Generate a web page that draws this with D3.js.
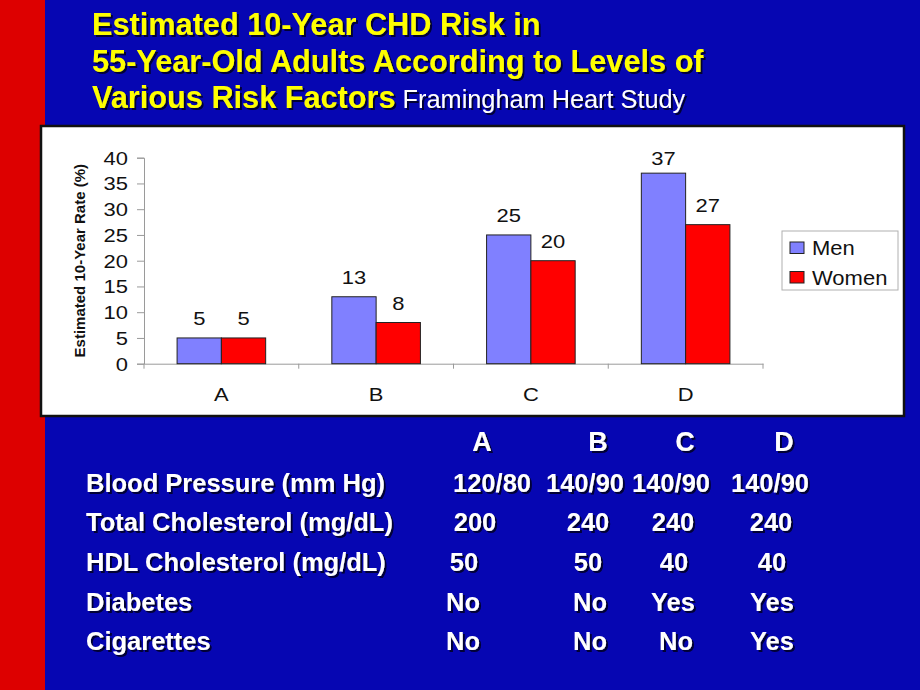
<!DOCTYPE html>
<html><head><meta charset="utf-8">
<script src="https://cdn.jsdelivr.net/npm/d3@7"></script>
<style>
html,body{margin:0;padding:0;background:#0808b0;}
svg{display:block;}
text{font-family:"Liberation Sans",Arial,Helvetica,sans-serif;}
</style></head>
<body>
<svg id="c" width="920" height="690"></svg>
<script>
// ---------- DATA ----------
const titleLines = ["Estimated 10-Year CHD Risk in", "55-Year-Old Adults According to Levels of", "Various Risk Factors"];
const subtitle = "Framingham Heart Study";
const categories = ["A", "B", "C", "D"];
const seriesNames = ["Men", "Women"];
const menValues = [5, 13, 25, 37];
const womenValues = [5, 8, 20, 27];
const yTicks = [0, 5, 10, 15, 20, 25, 30, 35, 40];
const yAxisTitle = "Estimated 10-Year Rate (%)";
const rowLabels = ["Blood Pressure (mm Hg)", "Total Cholesterol (mg/dL)", "HDL Cholesterol (mg/dL)", "Diabetes", "Cigarettes"];
const bloodPressure = ["120/80", "140/90", "140/90", "140/90"];
const totalCholesterol = ["200", "240", "240", "240"];
const hdlCholesterol = ["50", "50", "40", "40"];
const diabetes = ["No", "No", "Yes", "Yes"];
const cigarettes = ["No", "No", "No", "Yes"];

// ---------- DRAW ----------
const svg = d3.select("#c");
const defs = svg.append("defs");
const f = defs.append("filter").attr("id","sh").attr("x","-5%").attr("y","-20%").attr("width","110%").attr("height","150%");
f.append("feDropShadow").attr("dx",2).attr("dy",2).attr("stdDeviation",0.6).attr("flood-color","#000020").attr("flood-opacity",0.85);

svg.append("rect").attr("x",0).attr("y",0).attr("width",920).attr("height",690).attr("fill","#0606b2");
svg.append("rect").attr("x",0).attr("y",0).attr("width",45).attr("height",690).attr("fill","#dd0000");

// title
const tg = svg.append("g").attr("filter","url(#sh)");
const baselines = [35, 72, 108];
titleLines.forEach((t,i)=>{
  const tx = tg.append("text").attr("x",92).attr("y",baselines[i])
    .attr("fill","#ffff00").attr("font-size",30.7).attr("font-weight","bold").text(t);
  if(i===2){
    tx.append("tspan").attr("fill","#ffffff").attr("font-weight","normal").attr("font-size",25.3).text(" " + subtitle);
  }
});

// chart panel
svg.append("rect").attr("x",41).attr("y",126).attr("width",863).attr("height",290)
  .attr("fill","#ffffff").attr("stroke","#111").attr("stroke-width",2.5);

const plotL = 144, plotR = 763, plotT = 157.7, plotB = 363.7;
const x = d3.scaleBand().domain(categories).range([plotL, plotR]).padding(0);
const xi = d3.scaleBand().domain(seriesNames).range([0, x.bandwidth()]).paddingInner(0).paddingOuter(0.747);
const y = d3.scaleLinear().domain([0, 40]).range([plotB, plotT]);
const color = d3.scaleOrdinal().domain(seriesNames).range(["#8080ff", "#ff0000"]);
const sx = 1.22; // horizontal stretch of the embedded chart text

const chart = svg.append("g");
// y axis
const yAxis = chart.append("g").attr("transform",`translate(${plotL},0)`)
  .call(d3.axisLeft(y).tickValues(yTicks).tickSize(7).tickPadding(0).tickFormat(d3.format("d")));
yAxis.select(".domain").attr("stroke","#9a9a9a");
yAxis.selectAll(".tick line").attr("stroke","#9a9a9a");
yAxis.selectAll(".tick text").attr("font-size",18).attr("fill","#111")
  .attr("font-family","Liberation Sans, Arial, sans-serif")
  .attr("x",null).attr("dy",null).attr("text-anchor","end")
  .attr("transform",`translate(-16,6.5) scale(${sx},1)`);

// x axis
const xAxis = chart.append("g").attr("transform",`translate(0,${plotB})`)
  .call(d3.axisBottom(x).tickSize(0).tickPadding(0));
xAxis.select(".domain").attr("stroke","#9a9a9a");
xAxis.selectAll(".tick text").attr("font-size",18).attr("fill","#111")
  .attr("font-family","Liberation Sans, Arial, sans-serif")
  .attr("y",null).attr("dy",null)
  .attr("transform",`translate(0,37) scale(${sx},1)`);
// category boundary ticks
const bounds = categories.map(c=>x(c)).concat([x(categories[categories.length-1]) + x.bandwidth()]);
chart.append("g").selectAll("line").data(bounds).join("line")
  .attr("x1",d=>d).attr("x2",d=>d).attr("y1",plotB).attr("y2",plotB+5)
  .attr("stroke","#9a9a9a");

// bars
const rows = categories.map((c,i)=>({cat:c, vals:[{s:"Men",v:menValues[i]},{s:"Women",v:womenValues[i]}]}));
const groups = chart.append("g").selectAll("g").data(rows).join("g")
  .attr("transform",d=>`translate(${x(d.cat)},0)`);
groups.selectAll("rect").data(d=>d.vals).join("rect")
  .attr("x",d=>xi(d.s)).attr("width",xi.bandwidth())
  .attr("y",d=>y(d.v)).attr("height",d=>plotB - y(d.v))
  .attr("fill",d=>color(d.s)).attr("stroke","#222").attr("stroke-width",1);
groups.selectAll("text").data(d=>d.vals).join("text")
  .attr("text-anchor","middle").attr("font-size",18).attr("fill","#111")
  .attr("transform",d=>`translate(${xi(d.s)+xi.bandwidth()/2},${Math.max(y(d.v)-12.5, 165)}) scale(${sx},1)`)
  .text(d=>d.v);

// y axis title
chart.append("text").attr("transform",`translate(85,${(plotT+plotB)/2}) rotate(-90)`)
  .attr("text-anchor","middle").attr("font-size",15).attr("font-weight","bold").attr("fill","#111")
  .text(yAxisTitle);

// legend
const lg = chart.append("g");
lg.append("rect").attr("x",782).attr("y",231).attr("width",116).attr("height",59)
  .attr("fill","#fff").attr("stroke","#b0b0b0").attr("stroke-width",1);
seriesNames.forEach((s,i)=>{
  const yy = 242 + i*29.5;
  lg.append("rect").attr("x",790).attr("y",yy).attr("width",14).attr("height",11.5)
    .attr("fill",color(s)).attr("stroke","#222").attr("stroke-width",1);
  lg.append("text").attr("transform",`translate(812,${yy+13}) scale(1.1,1)`)
    .attr("font-size",20).attr("fill","#111").text(s);
});

// table
const tbl = svg.append("g").attr("filter","url(#sh)").attr("fill","#ffffff").attr("font-weight","bold");
const headerX = [482, 598, 685, 784];
tbl.selectAll("text.h").data(categories).join("text").attr("class","h")
  .attr("x",(d,i)=>headerX[i]).attr("y",451).attr("text-anchor","middle").attr("font-size",27).text(d=>d);
const rowBase = [492, 531, 571, 611, 650];
const tableData = [bloodPressure, totalCholesterol, hdlCholesterol, diabetes, cigarettes];
const cellX = [[492,585,671,770],[475,588,673,771],[464,588,674,772],[463,590,673,772],[463,590,676,772]];
rowLabels.forEach((lab,r)=>{
  tbl.append("text").attr("x",86).attr("y",rowBase[r]).attr("font-size",25.5).text(lab);
  tableData[r].forEach((v,c)=>{
    tbl.append("text").attr("x",cellX[r][c]).attr("y",rowBase[r]).attr("text-anchor","middle").attr("font-size",25.5).text(v);
  });
});
</script>
</body></html>
